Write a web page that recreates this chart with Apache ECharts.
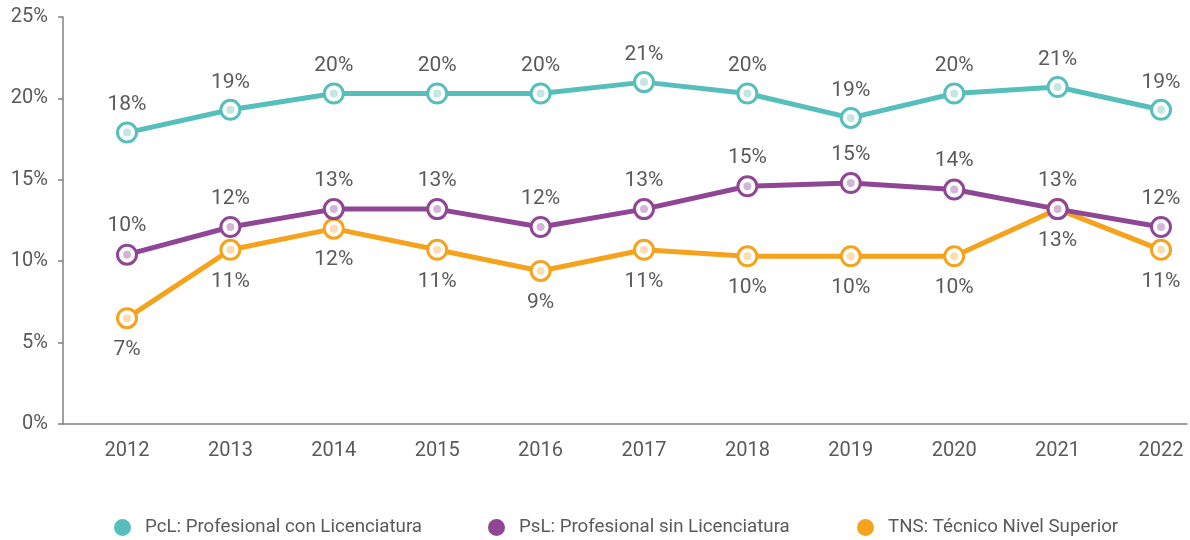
<!DOCTYPE html>
<html>
<head>
<meta charset="utf-8">
<script src="https://cdn.jsdelivr.net/npm/echarts@6/dist/echarts.min.js"></script>
<style>
  html, body { margin: 0; padding: 0; background: #ffffff; }
  #chart { width: 1190px; height: 540px; }
</style>
</head>
<body>
<div id="chart"></div>
<script>
// Years on the horizontal axis
const years = ['2012', '2013', '2014', '2015', '2016', '2017', '2018', '2019', '2020', '2021', '2022'];

// Share (%) per group and year
const pcl = [17.9, 19.3, 20.3, 20.3, 20.3, 21.0, 20.3, 18.8, 20.3, 20.7, 19.3];
const psl = [10.4, 12.1, 13.2, 13.2, 12.1, 13.2, 14.6, 14.8, 14.4, 13.2, 12.1];
const tns = [6.5, 10.7, 12.0, 10.7, 9.4, 10.7, 10.3, 10.3, 10.3, 13.2, 10.7];

// Series names
const namePcl = 'PcL: Profesional con Licenciatura';
const namePsl = 'PsL: Profesional sin Licenciatura';
const nameTns = 'TNS: Técnico Nivel Superior';

// Y-axis ticks
const yTicks = [0, 5, 10, 15, 20, 25];

const FONT = 'Roboto, "Liberation Sans", sans-serif';
const TEXT = '#5a5a5a';
const AXIS = '#808080';

const colors = { pcl: '#56bfbc', psl: '#8f4795', tns: '#f5a31c' };
const lights = { pcl: '#b7dfdd', psl: '#c8a2cf', tns: '#fdd49c' };

function lineSeries(name, data, color, labelPos, dist, z) {
  return {
    name: name,
    type: 'line',
    xAxisIndex: 0,
    yAxisIndex: 0,
    data: data,
    z: z,
    symbol: 'circle',
    symbolSize: 19,
    showAllSymbol: true,
    lineStyle: { color: color, width: 5 },
    itemStyle: { color: '#ffffff', borderColor: color, borderWidth: 3 },
    label: {
      show: true,
      position: labelPos,
      distance: dist,
      fontFamily: FONT,
      fontSize: 21,
      color: TEXT,
      formatter: p => Math.round(p.value) + '%'
    },
    emphasis: { disabled: true },
    animation: false
  };
}

function dotSeries(data, color, z) {
  return {
    type: 'scatter',
    xAxisIndex: 0,
    yAxisIndex: 0,
    data: data,
    z: z,
    symbol: 'circle',
    symbolSize: 8,
    itemStyle: { color: color },
    silent: true,
    emphasis: { disabled: true },
    animation: false
  };
}

function legendAt(left, name, color) {
  return {
    left: left,
    top: 513,
    data: [{ name: name, itemStyle: { color: color } }],
    icon: 'circle',
    itemWidth: 15,
    itemHeight: 15,
    selectedMode: false,
    textStyle: { fontFamily: FONT, fontSize: 18.7, color: TEXT, padding: [0, 0, 0, 10] }
  };
}

const chart = echarts.init(document.getElementById('chart'), null, { renderer: 'canvas' });

chart.setOption({
  animation: false,
  backgroundColor: '#ffffff',
  grid: [
    // plotting area: first and last year sit inside the frame
    { left: 127, right: 29, top: 17, bottom: 116 },
    // frame carrying the axis lines and percentage ticks
    { left: 63, right: 3, top: 17, bottom: 116 }
  ],
  xAxis: [
    {
      type: 'category',
      gridIndex: 0,
      data: years,
      boundaryGap: false,
      axisLine: { show: false },
      axisTick: { show: false },
      axisLabel: { fontFamily: FONT, fontSize: 20, color: TEXT, margin: 17 }
    },
    {
      type: 'value',
      gridIndex: 1,
      min: 0,
      max: 1,
      axisLine: { show: true, lineStyle: { color: AXIS, width: 1.5 } },
      axisTick: { show: false },
      axisLabel: { show: false },
      splitLine: { show: false }
    }
  ],
  yAxis: [
    {
      type: 'value',
      gridIndex: 0,
      min: yTicks[0],
      max: yTicks[yTicks.length - 1],
      interval: 5,
      show: false
    },
    {
      type: 'value',
      gridIndex: 1,
      min: yTicks[0],
      max: yTicks[yTicks.length - 1],
      interval: 5,
      axisLine: { show: true, lineStyle: { color: AXIS, width: 1.5 } },
      axisTick: { show: true, length: 5, lineStyle: { color: AXIS, width: 1.5 } },
      axisLabel: {
        fontFamily: FONT, fontSize: 20, color: TEXT, margin: 15,
        formatter: v => v + '%'
      },
      splitLine: { show: false }
    }
  ],
  legend: [
    legendAt(109, namePcl, colors.pcl),
    legendAt(483, namePsl, colors.psl),
    legendAt(852, nameTns, colors.tns)
  ],
  series: [
    lineSeries(nameTns, tns, colors.tns, 'bottom', 10, 2),
    dotSeries(tns, lights.tns, 3),
    lineSeries(namePsl, psl, colors.psl, 'top', 7, 4),
    dotSeries(psl, lights.psl, 5),
    lineSeries(namePcl, pcl, colors.pcl, 'top', 6, 6),
    dotSeries(pcl, lights.pcl, 7)
  ]
});
</script>
</body>
</html>
